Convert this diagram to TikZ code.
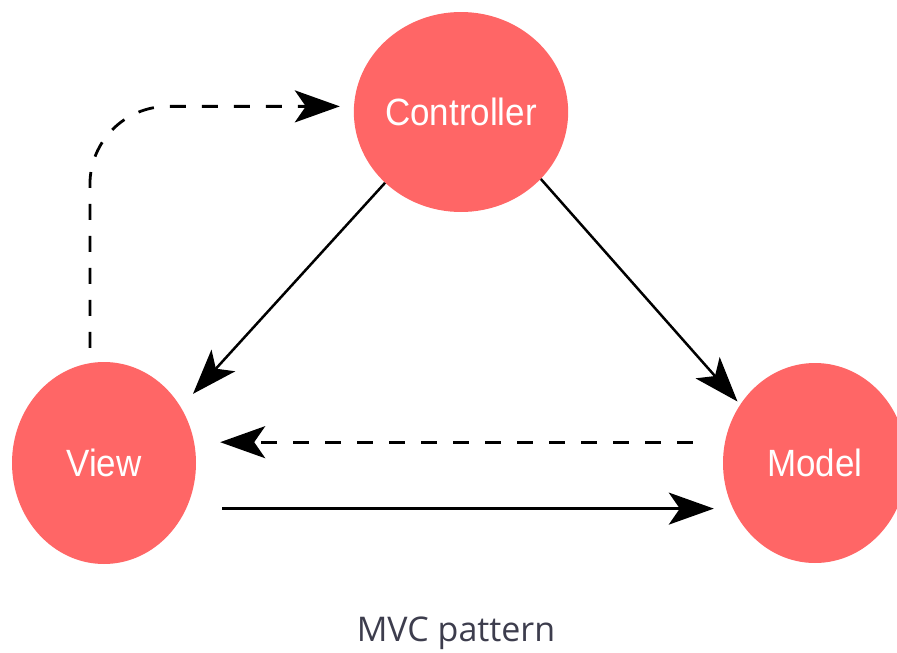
\documentclass[tikz,border=0pt]{standalone}
\usepackage{fontspec}
\usetikzlibrary{arrows.meta,shapes.geometric}
\newfontfamily\labelfont{Liberation Sans}[FakeStretch=0.92]
\newfontfamily\capfont{Open Sans}
\definecolor{nodered}{HTML}{FF6666}
\definecolor{captiongray}{HTML}{3D3D4D}
\tikzset{
  mvcnode/.style={ellipse, fill=nodered, inner sep=0pt, text=white,
    font=\labelfont\fontsize{38}{40}\selectfont},
  link/.style={line width=2.5pt, draw=black,
    -{Stealth[length=45pt, width=32pt, inset=11pt]}},
  dashlink/.style={link, line width=2.8pt, dash pattern=on 16pt off 16pt}
}
\begin{document}
\begin{tikzpicture}[x=1pt, y=-1pt]
  \useasboundingbox (0,0) rectangle (897,653);

  % the three parts of the pattern
  \node[mvcnode, minimum width=182pt, minimum height=200pt] (ctrl)  at (461,112) {Controller};
  \node[mvcnode, minimum width=184pt, minimum height=202pt] (view)  at (104,463) {View};
  \node[mvcnode, minimum width=184pt, minimum height=200pt] (model) at (815,463) {Model};

  % controller updates view and model
  \draw[link, shorten >=18pt] (ctrl.223.7) -- (view.36.9);
  \draw[link, shorten >=4pt]  (ctrl.320.6) -- (model.142.5);

  % model notifies view, view queries model
  \draw[dashlink, shorten <=32pt, shorten >=24pt]
    (model.167.8) -- (model.167.8 -| view.east);
  \draw[link, shorten <=36pt, shorten >=9pt]
    (view.-29.3) -- (view.-29.3 -| model.west);

  % user input from view to controller
  \draw[dashlink, rounded corners=78pt, shorten <=15pt, shorten >=14pt]
    (view.98.6) |- (ctrl.177);

  % caption
  \node[anchor=base, text=captiongray, font=\capfont\fontsize{34}{36}\selectfont]
    (caption) at (456,641) {MVC pattern};
\end{tikzpicture}
\end{document}
